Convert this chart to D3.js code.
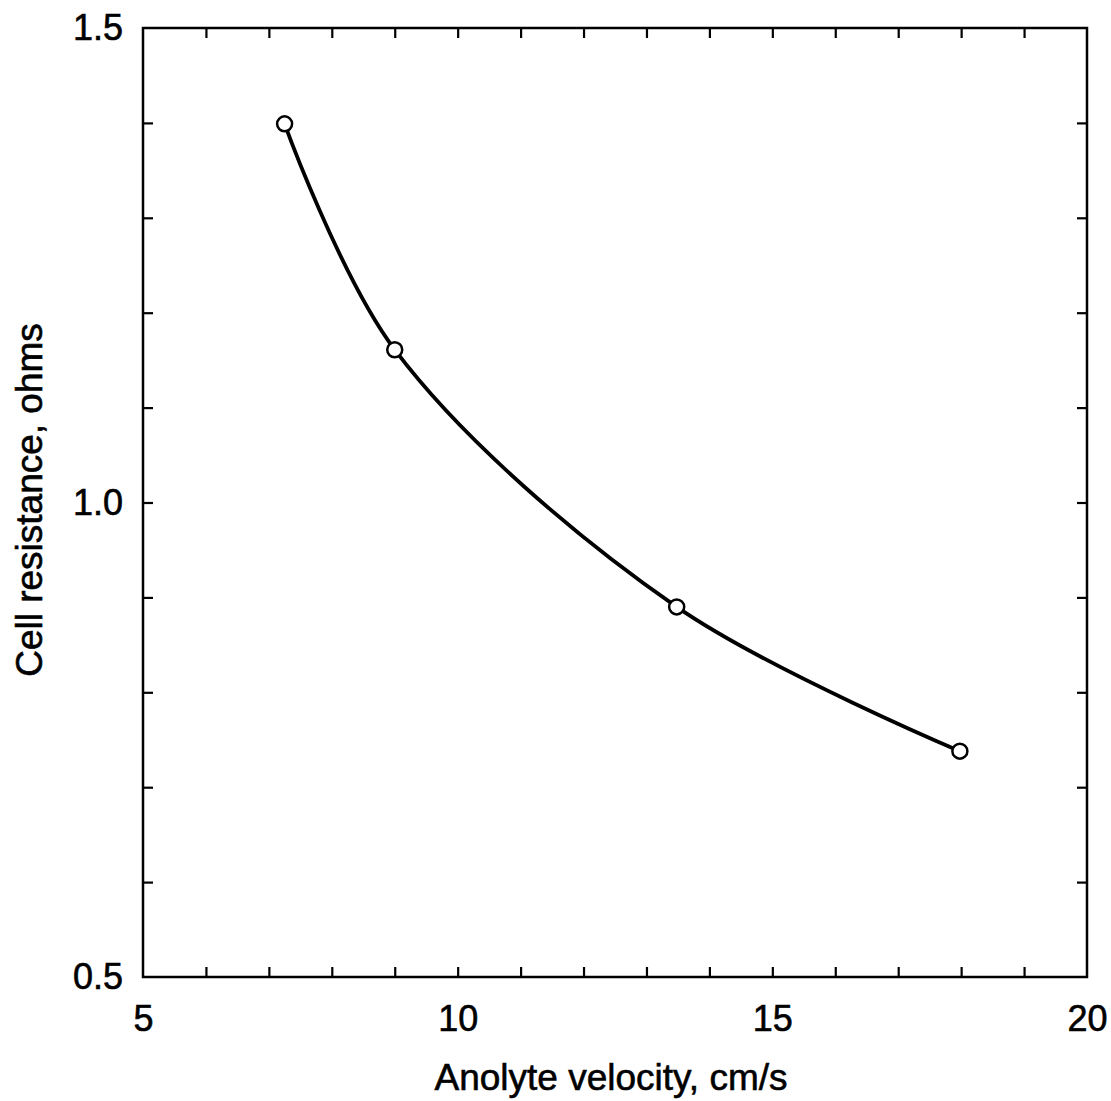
<!DOCTYPE html>
<html>
<head>
<meta charset="utf-8">
<script src="https://cdn.jsdelivr.net/npm/d3@7"></script>
<style>
  body { margin: 0; background: #fff; }
  text { font-family: "Liberation Sans", Arial, sans-serif; fill: #000; stroke: #000; stroke-width: 0.6px; }
</style>
</head>
<body>
<svg id="chart"></svg>
<script>
// data
var velocity = [7.25, 9.0, 13.48, 17.98];
var resistance = [1.399, 1.161, 0.890, 0.738];
var xTicks = [5, 10, 15, 20];
var yTicks = [0.5, 1.0, 1.5];

var svgWidth = 1111, svgHeight = 1101;
var margin = { top: 28, right: 24, bottom: 124, left: 143 };
var width = svgWidth - margin.left - margin.right;
var height = svgHeight - margin.top - margin.bottom;

var svg = d3.select("#chart")
    .attr("width", svgWidth)
    .attr("height", svgHeight);

var g = svg.append("g")
    .attr("transform", "translate(" + margin.left + "," + margin.top + ")");

var x = d3.scaleLinear().domain([5, 20]).range([0, width]);
var y = d3.scaleLinear().domain([0.5, 1.5]).range([height, 0]);

// minor ticks every 1 on x, every 0.1 on y, pointing inward on all sides
var xMinor = d3.range(6, 20, 1);
var yMinor = d3.range(6, 15, 1).map(d => d / 10);

function inTicks(axis, sel) {
    sel.call(axis);
    sel.select(".domain").remove();
    sel.selectAll("line").attr("stroke", "#000").attr("stroke-width", 2.2);
    sel.selectAll("text").remove();
}

g.append("g").attr("transform", "translate(0," + height + ")")
    .call(s => inTicks(d3.axisTop(x).tickValues(xMinor).tickSize(10), s));
g.append("g")
    .call(s => inTicks(d3.axisBottom(x).tickValues(xMinor).tickSize(10), s));
g.append("g")
    .call(s => inTicks(d3.axisRight(y).tickValues(yMinor).tickSize(10), s));
g.append("g").attr("transform", "translate(" + width + ",0)")
    .call(s => inTicks(d3.axisLeft(y).tickValues(yMinor).tickSize(10), s));

// frame
g.append("rect")
    .attr("width", width)
    .attr("height", height)
    .attr("fill", "none")
    .attr("stroke", "#000")
    .attr("stroke-width", 2.5);

// tick labels
g.append("g").attr("transform", "translate(0," + height + ")")
    .call(d3.axisBottom(x).tickValues(xTicks).tickSize(0).tickPadding(28).tickFormat(d3.format("d")))
    .call(s => s.select(".domain").remove())
    .selectAll("text")
    .style("font-size", "36px");

g.append("g")
    .call(d3.axisLeft(y).tickValues(yTicks).tickSize(0).tickPadding(20).tickFormat(d3.format(".1f")))
    .call(s => s.select(".domain").remove())
    .selectAll("text")
    .style("font-size", "36px");

// curve and markers
var pts = velocity.map((v, i) => ({ v: v, r: resistance[i] }));

var line = d3.line()
    .x(d => x(d.v))
    .y(d => y(d.r))
    .curve(d3.curveCatmullRom.alpha(0.5));

g.append("path")
    .datum(pts)
    .attr("d", line)
    .attr("fill", "none")
    .attr("stroke", "#000")
    .attr("stroke-width", 3.8);

g.selectAll(".dot")
    .data(pts)
  .enter().append("circle")
    .attr("class", "dot")
    .attr("cx", d => x(d.v))
    .attr("cy", d => y(d.r))
    .attr("r", 7.5)
    .attr("fill", "#fff")
    .attr("stroke", "#000")
    .attr("stroke-width", 2.5);

// axis titles
svg.append("text")
    .attr("x", 611)
    .attr("y", 1090)
    .style("text-anchor", "middle")
    .style("font-size", "37px")
    .text("Anolyte velocity, cm/s");

svg.append("text")
    .attr("transform", "rotate(-90)")
    .attr("x", -500)
    .attr("y", 42)
    .style("text-anchor", "middle")
    .style("font-size", "37px")
    .text("Cell resistance, ohms");
</script>
</body>
</html>
